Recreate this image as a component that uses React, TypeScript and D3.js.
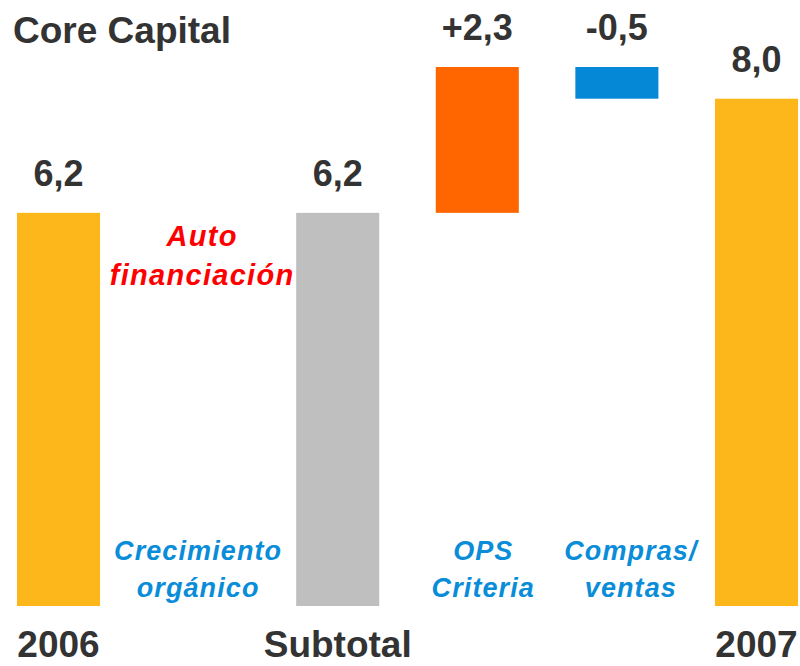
import React from "react";
import * as d3 from "d3";

const categories = ["2006", "Crecimiento orgánico", "Subtotal", "OPS Criteria", "Compras/ventas", "2007"];
const starts = [0, 6.2, 0, 6.2, 8.5, 0];
const ends = [6.2, 6.2, 6.2, 8.5, 8.0, 8.0];
const valueLabels = ["6,2", "", "6,2", "+2,3", "-0,5", "8,0"];
const axisLabels = ["2006", "", "Subtotal", "", "", "2007"];
const barColors = ["#FDB71B", "none", "#BFBFBF", "#FF6600", "#0589D6", "#FDB71B"];
const annotationLines = [["Crecimiento", "orgánico"], ["OPS", "Criteria"], ["Compras/", "ventas"]];
const annotationCats = ["Crecimiento orgánico", "OPS Criteria", "Compras/ventas"];
const annotationDx = [0, 6, 14];
const autoLines = ["Auto", "financiación"];
const title = "Core Capital";

const W = 800;
const H = 666;
const FONT = "'Liberation Sans', Arial, Helvetica, sans-serif";

export default function App() {
  const x = d3.scaleBand<string>().domain(categories).range([17, 798]).paddingInner(0.405).paddingOuter(0);
  const y = d3.scaleLinear().domain([0, 8.5]).range([606, 67]);
  const bw = x.bandwidth();

  return (
    <svg width={W} height={H} style={{ position: "absolute", left: 0, top: 0, background: "#fff" }} fontFamily={FONT}>
      <text x={13} y={43} fontSize={37} fontWeight="bold" fill="#333">{title}</text>
      {categories.map((c, i) => {
        const top = y(Math.max(starts[i], ends[i]));
        const bot = y(Math.min(starts[i], ends[i]));
        const cx = (x(c) as number) + bw / 2;
        return (
          <g key={c}>
            {barColors[i] !== "none" && (
              <rect x={x(c)} y={top} width={bw} height={bot - top} fill={barColors[i]} />
            )}
            {valueLabels[i] && (
              <text x={cx} y={top - 27} textAnchor="middle" fontSize={36} fontWeight="bold" fill="#333">
                {valueLabels[i]}
              </text>
            )}
            {axisLabels[i] && (
              <text x={cx} y={657} textAnchor="middle" fontSize={37} fontWeight="bold" fill="#333">
                {axisLabels[i]}
              </text>
            )}
          </g>
        );
      })}
      {annotationCats.map((c, i) => {
        const cx = (x(c) as number) + bw / 2 + annotationDx[i];
        return (
          <text key={c} textAnchor="middle" fontSize={27} fontWeight="bold" fontStyle="italic" fill="#0A8DD8" letterSpacing={1.1}>
            {annotationLines[i].map((l, j) => (
              <tspan key={j} x={cx} y={560 + j * 37}>{l}</tspan>
            ))}
          </text>
        );
      })}
      <text textAnchor="middle" fontSize={29} fontWeight="bold" fontStyle="italic" fill="#FF0000" letterSpacing={1.3}>
        {autoLines.map((l, j) => (
          <tspan key={j} x={(x("Crecimiento orgánico") as number) + bw / 2 + 4} y={246 + j * 39}>{l}</tspan>
        ))}
      </text>
    </svg>
  );
}
